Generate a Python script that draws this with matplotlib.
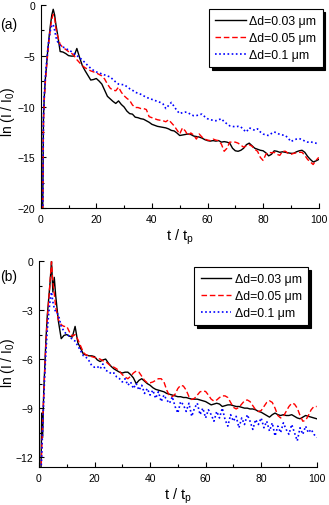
import numpy as np
import matplotlib
matplotlib.use('Agg')
import matplotlib.pyplot as plt
from matplotlib.ticker import MultipleLocator

plt.rcParams['font.family'] = ['Liberation Sans', 'DejaVu Sans']
plt.rcParams['mathtext.fontset'] = 'custom'
plt.rcParams['mathtext.rm'] = 'Liberation Sans'
plt.rcParams['mathtext.it'] = 'Liberation Sans'

# ---------------- data ----------------
t_rise = [0.7, 1.0, 1.3, 1.7, 2.0, 2.5, 3.0, 3.5, 4.0, 4.5, 5.0, 5.5]
t_main = list(range(6, 101))
t = np.array(t_rise + t_main, dtype=float)

labels = ['\u0394d=0.03 \u03bcm', '\u0394d=0.05 \u03bcm', '\u0394d=0.1 \u03bcm']

# panel (a)
a_003 = [-21, -11, -9.0, -7.2, -6.3, -4.6, -3.2, -2.0, -1.0, -0.45, -1.0, -2.0,
         -2.8, -4.6, -4.65, -4.8, -5.0, -5.05, -5.05, -4.3, -5.2, -6.0,
         -6.5, -6.95, -7.4, -7.35, -7.25, -7.5, -7.8, -8.4, -9.0, -9.25,
         -9.5, -9.7, -9.45, -9.8, -10.05, -10.45, -10.7, -10.75, -11.05, -11.1,
         -11.2, -11.25, -11.4, -11.55, -11.75, -11.85, -11.95, -12.0, -12.05, -12.1,
         -12.2, -12.35, -12.4, -12.6, -12.85, -12.8, -12.75, -12.7, -12.75, -12.9,
         -12.95, -13.0, -13.1, -13.25, -13.35, -13.4, -13.35, -13.4, -13.35, -13.5,
         -13.45, -13.5, -13.6, -14.1, -14.35, -14.4, -14.3, -14.1, -13.75, -13.6,
         -13.85, -14.1, -14.2, -14.3, -14.35, -14.55, -14.85, -14.7, -14.35, -14.4,
         -14.5, -14.45, -14.5, -14.55, -14.6, -14.6, -14.45, -14.35, -14.3, -14.5,
         -14.9, -15.2, -15.45, -15.35, -15.2]
a_005 = [-21, -11.5, -9.3, -7.5, -6.5, -4.9, -3.5, -2.3, -1.4, -0.95, -1.3, -2.4,
         -3.0, -3.9, -4.2, -4.4, -4.6, -4.75, -5.0, -5.4, -5.7, -6.0,
         -6.2, -6.35, -6.5, -6.6, -6.7, -6.85, -7.0, -7.3, -7.8, -8.2,
         -8.4, -8.45, -8.1, -8.6, -8.95, -9.2, -9.4, -9.85, -10.1, -10.1,
         -10.2, -10.2, -10.3, -11.0, -11.1, -11.2, -11.3, -11.35, -11.4, -11.5,
         -11.3, -11.6, -11.9, -12.3, -12.7, -12.1, -12.4, -12.85, -12.6, -12.8,
         -13.2, -12.7, -13.0, -13.2, -13.3, -13.35, -13.2, -13.3, -13.35, -13.7,
         -14.4, -14.1, -13.5, -13.5, -13.5, -13.6, -13.8, -14.0, -13.85, -13.75,
         -13.9, -14.2, -14.4, -15.0, -15.3, -14.7, -14.5, -14.55, -14.5, -14.7,
         -14.8, -14.4, -14.4, -14.6, -14.7, -14.6, -14.55, -14.5, -14.5, -14.8,
         -15.2, -15.45, -15.7, -15.3, -15.0]
a_01 = [-21, -11, -8.8, -7.0, -6.0, -4.5, -3.3, -2.5, -2.0, -1.95, -2.5, -3.2,
        -3.6, -4.0, -4.15, -4.3, -4.45, -4.6, -4.8, -5.0, -5.2, -5.45,
        -5.7, -6.0, -6.25, -6.45, -6.6, -6.7, -6.8, -6.9, -7.0, -7.1,
        -7.35, -7.6, -7.8, -7.85, -7.85, -8.05, -8.25, -8.4, -8.6, -8.7,
        -8.8, -8.95, -9.1, -9.2, -9.3, -9.4, -9.5, -9.6, -9.75, -10.2,
        -9.9, -9.6, -10.0, -10.4, -10.7, -10.6, -10.55, -10.6, -10.8, -10.9,
        -10.9, -10.8, -10.75, -11.0, -11.2, -11.3, -11.35, -11.4, -11.3, -11.2,
        -11.5, -11.7, -11.9, -11.95, -12.0, -11.95, -12.0, -12.3, -12.5, -12.1,
        -12.2, -12.35, -12.2, -12.5, -12.7, -12.8, -12.85, -12.65, -12.5, -12.6,
        -12.75, -12.8, -12.85, -13.1, -13.45, -13.3, -13.2, -13.15, -13.25, -13.4,
        -13.5, -13.45, -13.55, -13.6, -13.7]

# panel (b)
b_003 = [-13, -9.3, -10.8, -8.0, -6.8, -4.8, -3.3, -2.3, -1.3, 0.0, -1.9, -1.0,
         -2.1, -3.7, -4.75, -4.55, -4.5, -4.6, -4.65, -4.0, -5.0, -5.35,
         -5.7, -5.75, -5.8, -5.8, -5.85, -6.05, -6.15, -6.05, -6.0, -6.25,
         -6.45, -6.6, -6.7, -6.8, -6.85, -6.8, -6.8, -6.95, -7.15, -7.5,
         -7.3, -7.2, -7.35, -7.5, -7.6, -7.75, -7.85, -7.9, -7.95, -8.0,
         -8.1, -8.15, -8.2, -8.25, -8.3, -8.3, -8.35, -8.35, -8.4, -8.45,
         -8.45, -8.45, -8.5, -8.55, -8.6, -8.7, -8.8, -8.75, -8.7, -8.75,
         -8.9, -8.85, -8.8, -8.8, -8.85, -8.9, -8.9, -8.95, -9.0, -9.0,
         -9.05, -9.05, -9.1, -9.2, -9.25, -9.35, -9.45, -9.55, -9.4, -9.3,
         -9.4, -9.45, -9.4, -9.45, -9.45, -9.4, -9.5, -9.6, -9.65, -9.55,
         -9.45, -9.5, -9.55, -9.6, -9.65]
b_005 = [-13, -11.5, -10.0, -8.2, -7.0, -5.0, -3.5, -2.4, -1.2, -0.05, -1.3, -2.0,
         -2.8, -3.6, -3.9, -4.0, -4.0, -4.35, -4.6, -4.5, -4.8, -5.2,
         -5.6, -5.75, -5.8, -5.85, -5.9, -5.95, -6.0, -6.1, -6.15, -6.3,
         -6.45, -6.5, -6.6, -6.75, -6.95, -7.1, -7.2, -7.05, -6.85, -6.73,
         -6.8, -7.05, -7.3, -7.45, -7.45, -7.4, -7.3, -7.2, -7.2, -7.4,
         -7.9, -8.25, -8.3, -8.15, -7.8, -7.6, -7.65, -7.9, -8.3, -8.47,
         -8.4, -8.2, -8.0, -7.95, -7.98, -8.2, -8.45, -8.57, -8.5, -8.35,
         -8.25, -8.25, -8.35, -8.65, -8.95, -9.05, -8.95, -8.75, -8.55, -8.5,
         -8.6, -8.85, -9.1, -9.2, -9.15, -8.9, -8.65, -8.55, -8.65, -9.0,
         -9.45, -9.6, -9.5, -9.2, -8.9, -8.7, -8.75, -9.0, -9.45, -9.8,
         -9.75, -9.45, -9.1, -8.9, -8.9]
b_01 = [-13, -11.8, -10.3, -8.5, -7.2, -5.5, -4.2, -3.2, -2.4, -1.9, -2.5, -2.9,
        -3.1, -3.3, -4.0, -4.3, -4.5, -4.6, -4.8, -4.9, -5.2, -5.5,
        -5.8, -5.9, -6.1, -6.4, -6.5, -6.45, -6.6, -6.3, -6.7, -6.75,
        -6.9, -6.85, -7.1, -7.2, -7.4, -7.2, -7.6, -7.4, -7.8, -7.5,
        -7.9, -7.6, -8.1, -7.8, -8.2, -7.9, -8.4, -8.0, -8.6, -8.2,
        -8.5, -8.7, -8.3, -8.9, -9.3, -8.6, -8.8, -9.2, -8.7, -9.5,
        -9.0, -8.7, -9.4, -9.0, -9.6, -9.1, -9.4, -9.8, -9.2, -9.6,
        -9.0, -9.7, -10.1, -9.4, -9.8, -9.5, -10.2, -9.6, -10.0, -9.4,
        -9.8, -10.3, -9.7, -10.0, -9.6, -10.2, -9.8, -10.4, -9.9, -10.7,
        -10.1, -10.5, -9.9, -10.3, -10.6, -10.0, -10.5, -11.0, -10.2, -10.6,
        -10.1, -10.5, -10.3, -10.6, -10.8]

W, H = 329, 506
fig = plt.figure(figsize=(W / 100, H / 100), dpi=100)

styles = [dict(color='black', ls='-', lw=1.0),
          dict(color='#ff0000', ls=(0, (4, 2)), lw=1.0),
          dict(color='#0000ff', ls=(0, (1, 1.5)), lw=1.2)]


def make_panel(rect, series, ylim, ymaj, ymin, tag, tag_xy, ylab_xy, leg_xy):
    ax = fig.add_axes(rect)
    for vals, lab, st in zip(series, labels, styles):
        ax.plot(t, vals, label=lab, **st)
    ax.set_xlim(0, 100)
    ax.set_ylim(*ylim)
    ax.xaxis.set_major_locator(MultipleLocator(20))
    ax.xaxis.set_minor_locator(MultipleLocator(10))
    ax.yaxis.set_major_locator(MultipleLocator(ymaj))
    ax.yaxis.set_minor_locator(MultipleLocator(ymin))
    ax.spines['top'].set_visible(False)
    ax.spines['right'].set_visible(False)
    ax.tick_params(which='both', direction='in', labelsize=7.5, width=0.8, pad=4)
    ax.tick_params(which='major', length=3.5)
    ax.tick_params(which='minor', length=2)
    ax.set_xlabel('t / t$_\\mathregular{p}$', fontsize=10.5, labelpad=2)
    fig.text(ylab_xy[0] / W, 1 - ylab_xy[1] / H, 'ln (I / I$_\\mathregular{0}$)',
             fontsize=10, rotation=90, ha='center', va='center')
    fig.text(tag_xy[0] / W, 1 - tag_xy[1] / H, tag, fontsize=10, ha='center', va='center')
    leg = ax.legend(loc='upper right', bbox_to_anchor=(leg_xy[0] / W, 1 - leg_xy[1] / H),
                    bbox_transform=fig.transFigure, borderaxespad=0, fontsize=8.8,
                    frameon=True, fancybox=False, edgecolor='black',
                    shadow={'color': 'black', 'alpha': 1},
                    handlelength=2.5, handletextpad=0.3, labelspacing=0.4,
                    borderpad=0.5)
    leg.get_frame().set_linewidth(0.8)
    return ax


make_panel([40.7 / W, 1 - 209.3 / H, 278 / W, 203.6 / H],
           [a_003, a_005, a_01], (-20, 0), 5, 2.5, '(a)', (9, 25), (8, 112), (322.7, 10))
make_panel([39 / W, 1 - 468 / H, 277.7 / W, 206 / H],
           [b_003, b_005, b_01], (-12.6, 0), 3, 1.5, '(b)', (9, 277), (8, 363), (308, 268))

fig.savefig('out.png', dpi=100)
